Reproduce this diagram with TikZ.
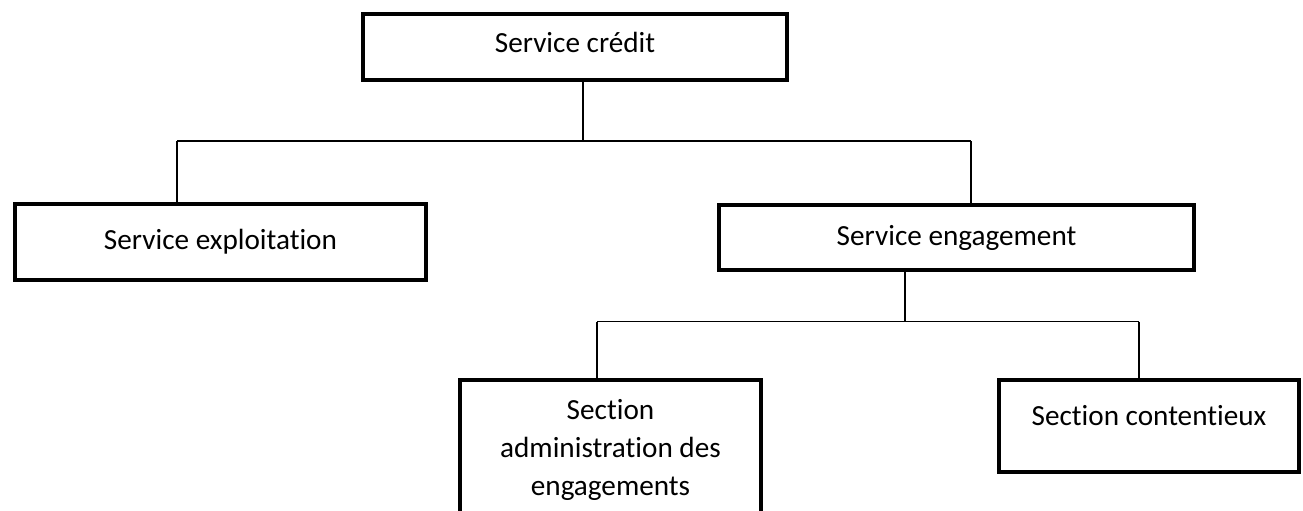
\documentclass[tikz,border=0pt]{standalone}
\usepackage{fontspec}
\setmainfont{Carlito}[Ligatures=NoCommon]
\tikzset{
	org chart/.style={
		x=.5pt, y=-.5pt,
		unit/.style={draw, line width=2pt, inner sep=0pt, align=center,
			font=\fontsize{14.6}{19}\selectfont},
		link/.style={draw, line width=.75pt}
		},
}

\begin{document}
\begin{tikzpicture}[org chart]
      \useasboundingbox (0,0) rectangle (1303,510);
      \node[unit, minimum width=212pt, minimum height=33pt, text depth=5pt] (credit) at (575,47) {Service crédit};
      \node[unit, minimum width=205.5pt, minimum height=38pt] (exploit) at (220.5,242) {Service exploitation};
      \node[unit, minimum width=237.5pt, minimum height=32.5pt] (engage) at (956.5,237.5) {Service engagement};
      \node[unit, minimum width=150.5pt, minimum height=70pt] (admin) at (610.5,450) {Section\\administration des\\engagements};
      \node[unit, minimum width=150pt, minimum height=46pt, text depth=11pt] (litig) at (1149,426) {Section contentieux};
      % first level
      \coordinate (drop1) at (583,141);
      \coordinate (bar1W) at (177,141);
      \coordinate (bar1E) at (971,141);
      \draw[link] (bar1W) -- (bar1E);
      \draw[link] (drop1 |- credit.south) -- (drop1);
      \draw[link] (bar1W) -- (bar1W |- exploit.north);
      \draw[link] (bar1E) -- (bar1E |- engage.north);
      % second level
      \coordinate (drop2) at (905,321.5);
      \coordinate (bar2W) at (597,321.5);
      \coordinate (bar2E) at (1139,321.5);
      \draw[link] (bar2W) -- (bar2E);
      \draw[link] (drop2 |- engage.south) -- (drop2);
      \draw[link] (bar2W) -- (bar2W |- admin.north);
      \draw[link] (bar2E) -- (bar2E |- litig.north);
\end{tikzpicture}
\end{document}
